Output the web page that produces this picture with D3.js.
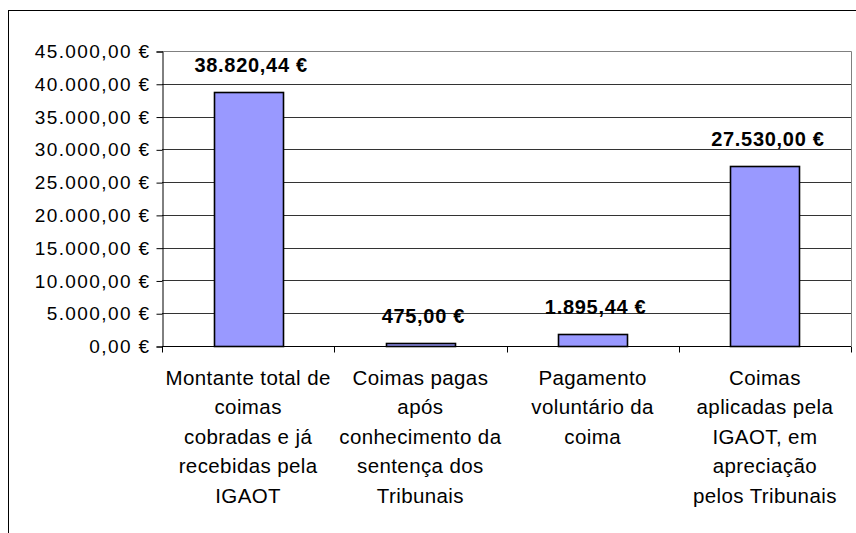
<!DOCTYPE html>
<html>
<head>
<meta charset="utf-8">
<script src="https://cdn.jsdelivr.net/npm/d3@7"></script>
<style>
  body { margin: 0; background: #fff; }
  svg { display: block; }
</style>
</head>
<body>
<div id="chart-container"></div>
<script>
// coimas - montantes por categoria
const categories = ["montante", "apos", "voluntario", "aplicadas"];
const categoryLines = [
    ["Montante total de", "coimas", "cobradas e já", "recebidas pela", "IGAOT"],
    ["Coimas pagas", "após", "conhecimento da", "sentença dos", "Tribunais"],
    ["Pagamento", "voluntário da", "coima"],
    ["Coimas", "aplicadas pela", "IGAOT, em", "apreciação", "pelos Tribunais"]
];
const values = [38820.44, 475.00, 1895.44, 27530.00];
const yTicks = [0, 5000, 10000, 15000, 20000, 25000, 30000, 35000, 40000, 45000];

let width = 856;
let height = 533;
const margin = {left: 162, right: 5, top: 51, bottom: 187};

const svg = d3.select("#chart-container")
    .append("svg")
    .attr("width", width)
    .attr("height", height);

// portuguese number format
const pt = d3.formatLocale({
    decimal: ",",
    thousands: ".",
    grouping: [3],
    currency: ["", " €"]
});
const euro = pt.format("$,.2f");

// outer chart border
svg.append("rect")
    .attr("x", 8.5)
    .attr("y", 10.5)
    .attr("width", width)
    .attr("height", height)
    .attr("fill", "none")
    .attr("stroke", "#000")
    .attr("stroke-width", 1);

const x = d3.scaleBand()
    .domain(categories)
    .range([margin.left, width - margin.right])
    .padding(0);

const xBar = d3.scaleBand()
    .domain(categories)
    .range([margin.left, width - margin.right])
    .paddingInner(0.6)
    .paddingOuter(0.3);

const y = d3.scaleLinear()
    .domain([0, 45000])
    .range([height - margin.bottom, margin.top]);

// gridlines
svg.append("g")
    .selectAll("line")
    .data(yTicks.slice(1, -1))
    .enter()
    .append("line")
    .attr("x1", margin.left)
    .attr("x2", width - margin.right)
    .attr("y1", d => Math.round(y(d)) + 0.5)
    .attr("y2", d => Math.round(y(d)) + 0.5)
    .attr("stroke", "#333")
    .attr("stroke-width", 1);

// plot area border (top and right)
svg.append("path")
    .attr("d", `M${margin.left},${Math.round(y(45000)) + 0.5}H${Math.round(width - margin.right) + 0.5}V${Math.round(y(0))}`)
    .attr("fill", "none")
    .attr("stroke", "#808080")
    .attr("stroke-width", 1);

// bars
svg.append("g")
    .selectAll("rect")
    .data(values)
    .enter()
    .append("rect")
    .attr("x", (d, i) => Math.round(xBar(categories[i])) + 0.5)
    .attr("y", d => Math.round(y(d)) + 0.5)
    .attr("width", Math.round(xBar.bandwidth()))
    .attr("height", d => Math.round(y(0)) - Math.round(y(d)))
    .attr("fill", "#9999FF")
    .attr("stroke", "#000")
    .attr("stroke-width", 1.6);

// y axis
const yAxis = d3.axisLeft(y)
    .tickValues(yTicks)
    .tickSize(6)
    .tickFormat(euro);

svg.append("g")
    .attr("transform", `translate(${margin.left + 0.5},0.5)`)
    .call(yAxis)
    .call(g => g.select(".domain").attr("stroke", "#000"))
    .call(g => g.selectAll(".tick line").attr("stroke", "#000"))
    .call(g => g.selectAll(".tick text")
        .attr("x", -12)
        .attr("fill", "#000")
        .style("font-family", "Liberation Sans, Arial, sans-serif")
        .style("font-size", "19px")
        .style("letter-spacing", "1.4px"));

// x axis with ticks on category boundaries
const y0 = Math.round(y(0)) + 0.5;
svg.append("line")
    .attr("x1", margin.left)
    .attr("x2", width - margin.right)
    .attr("y1", y0)
    .attr("y2", y0)
    .attr("stroke", "#000");

const bounds = categories.map(c => x(c)).concat([width - margin.right]);
svg.append("g")
    .selectAll("line")
    .data(bounds)
    .enter()
    .append("line")
    .attr("x1", d => Math.round(d) + 0.5)
    .attr("x2", d => Math.round(d) + 0.5)
    .attr("y1", y0)
    .attr("y2", y0 + 6)
    .attr("stroke", "#000");

// category labels
const catLabels = svg.append("g")
    .selectAll("text")
    .data(categoryLines)
    .enter()
    .append("text")
    .attr("x", (d, i) => x(categories[i]) + x.bandwidth() / 2)
    .attr("y", 385)
    .attr("text-anchor", "middle")
    .style("font-family", "Liberation Sans, Arial, sans-serif")
    .style("font-size", "20.5px")
    .style("letter-spacing", "0.4px")
    .attr("fill", "#000");

catLabels.selectAll("tspan")
    .data((d, i) => d.map(t => ({t: t, cx: x(categories[i]) + x.bandwidth() / 2})))
    .enter()
    .append("tspan")
    .attr("x", d => d.cx)
    .attr("dy", (d, i) => i == 0 ? 0 : 29.4)
    .text(d => d.t);

// value labels above bars
svg.append("g")
    .selectAll("text")
    .data(values)
    .enter()
    .append("text")
    .attr("x", (d, i) => xBar(categories[i]) + xBar.bandwidth() / 2 + 3)
    .attr("y", d => y(d) - 20)
    .attr("text-anchor", "middle")
    .style("font-family", "Liberation Sans, Arial, sans-serif")
    .style("font-size", "20px")
    .style("font-weight", "bold")
    .style("letter-spacing", "0.7px")
    .attr("fill", "#000")
    .text(d => euro(d));
</script>
</body>
</html>
